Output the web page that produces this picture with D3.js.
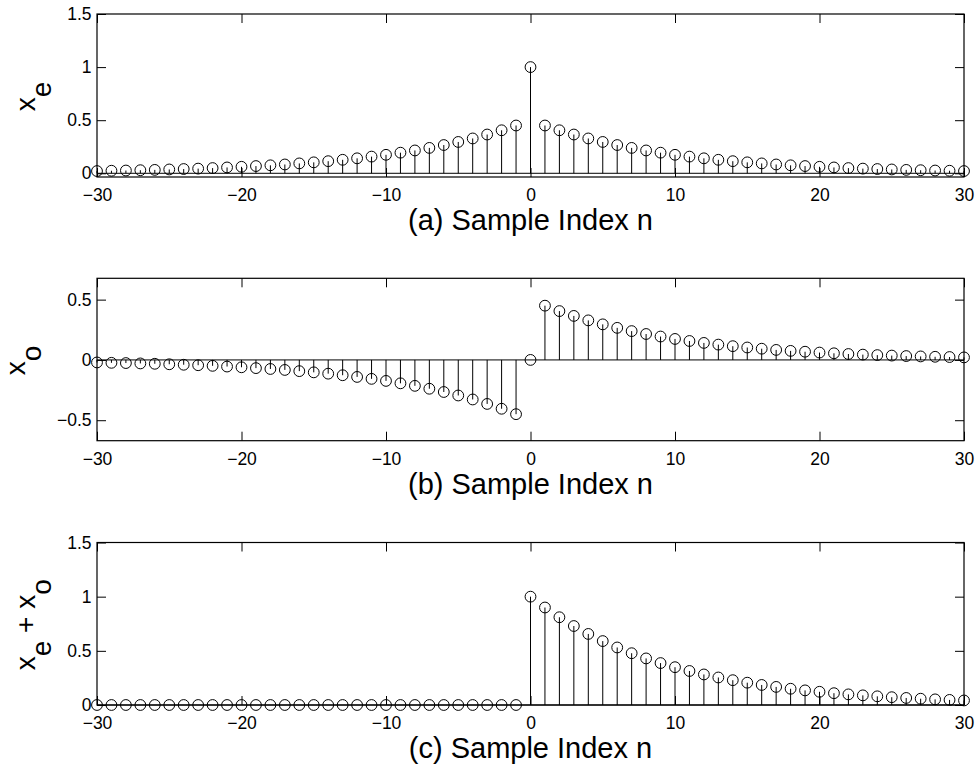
<!DOCTYPE html>
<html>
<head>
<meta charset="utf-8">
<script src="https://cdn.jsdelivr.net/npm/d3@7/dist/d3.min.js"></script>
<style>
  html, body { margin: 0; padding: 0; background: #fff; }
  svg { display: block; }
  text { font-family: "Liberation Sans", Arial, Helvetica, sans-serif; fill: #000; }
</style>
</head>
<body>
<svg id="chart" width="977" height="767"></svg>
<script>
// ---------------- DATA ----------------
const sampleIndex = d3.range(-30, 31); // n = -30 ... 30

const evenPart = [
  0.021,0.024,0.026,0.029,0.032,0.036,0.040,0.044,0.049,0.055,
  0.061,0.068,0.075,0.083,0.093,0.103,0.114,0.127,0.141,0.157,
  0.174,0.194,0.215,0.239,0.266,0.295,0.328,0.365,0.405,0.450,
  1.000,
  0.450,0.405,0.365,0.328,0.295,0.266,0.239,0.215,0.194,0.174,
  0.157,0.141,0.127,0.114,0.103,0.093,0.083,0.075,0.068,0.061,
  0.055,0.049,0.044,0.040,0.036,0.032,0.029,0.026,0.024,0.021
];

const oddPart = [
  -0.021,-0.024,-0.026,-0.029,-0.032,-0.036,-0.040,-0.044,-0.049,-0.055,
  -0.061,-0.068,-0.075,-0.083,-0.093,-0.103,-0.114,-0.127,-0.141,-0.157,
  -0.174,-0.194,-0.215,-0.239,-0.266,-0.295,-0.328,-0.365,-0.405,-0.450,
  0.000,
  0.450,0.405,0.365,0.328,0.295,0.266,0.239,0.215,0.194,0.174,
  0.157,0.141,0.127,0.114,0.103,0.093,0.083,0.075,0.068,0.061,
  0.055,0.049,0.044,0.040,0.036,0.032,0.029,0.026,0.024,0.021
];

const sumSignal = [
  0,0,0,0,0,0,0,0,0,0,
  0,0,0,0,0,0,0,0,0,0,
  0,0,0,0,0,0,0,0,0,0,
  1.000,
  0.900,0.810,0.729,0.656,0.590,0.531,0.478,0.430,0.387,0.349,
  0.314,0.282,0.254,0.229,0.206,0.185,0.167,0.150,0.135,0.122,
  0.109,0.098,0.089,0.080,0.072,0.065,0.058,0.052,0.047,0.042
];

const xTickValues = [-30, -20, -10, 0, 10, 20, 30];
const yTicksA = [0, 0.5, 1, 1.5];
const yTicksB = [-0.5, 0, 0.5];
const yTicksC = [0, 0.5, 1, 1.5];

const titles = ["(a) Sample Index n", "(b) Sample Index n", "(c) Sample Index n"];
// y labels as [text, isSubscript] parts
const yLabelA = [["x", false], ["e", true]];
const yLabelB = [["x", false], ["o", true]];
const yLabelC = [["x", false], ["e", true], [" + ", false], ["x", false], ["o", true]];

// ---------------- LAYOUT ----------------
const svg = d3.select("#chart");
const left = 97, right = 964;
const x = d3.scaleLinear().domain([-30, 30]).range([left, right]);

const panels = [
  { values: evenPart,  domain: [-0.035, 1.5], top: 14,    bottom: 177,   yTicks: yTicksA, label: yLabelA, labelX: 35, title: titles[0] },
  { values: oddPart,   domain: [-0.67, 0.677], top: 278.3, bottom: 440.7, yTicks: yTicksB, label: yLabelB, labelX: 25, title: titles[1] },
  { values: sumSignal, domain: [0, 1.5],      top: 542.5, bottom: 705,   yTicks: yTicksC, label: yLabelC, labelX: 35, title: titles[2] }
];

const fmt = v => {
  const s = d3.format("~g")(Math.abs(v));
  return (v < 0 ? "\u2212" : "") + s;
};

panels.forEach(p => {
  const y = d3.scaleLinear().domain(p.domain).range([p.bottom, p.top]);
  const g = svg.append("g");

  // axes (inner ticks)
  const tickLen = 9;
  const xb = g.append("g").attr("transform", `translate(0,${p.bottom})`)
    .call(d3.axisBottom(x).tickValues(xTickValues).tickFormat(fmt)
      .tickSizeInner(-tickLen).tickSizeOuter(0).tickPadding(12));
  const xt = g.append("g").attr("transform", `translate(0,${p.top})`)
    .call(d3.axisTop(x).tickValues(xTickValues).tickFormat("")
      .tickSizeInner(-tickLen).tickSizeOuter(0));
  const yl = g.append("g").attr("transform", `translate(${left},0)`)
    .call(d3.axisLeft(y).tickValues(p.yTicks).tickFormat(fmt)
      .tickSizeInner(-tickLen).tickSizeOuter(0).tickPadding(5.5));
  const yr = g.append("g").attr("transform", `translate(${right},0)`)
    .call(d3.axisRight(y).tickValues(p.yTicks).tickFormat("")
      .tickSizeInner(-tickLen).tickSizeOuter(0));
  [xb, xt, yl, yr].forEach(a => {
    a.select(".domain").remove();
    a.selectAll(".tick line").attr("stroke", "#000").attr("stroke-width", 1);
    a.selectAll("text").attr("font-size", 17.5)
      .attr("font-family", '"Liberation Sans", Arial, sans-serif').attr("fill", "#000");
  });

  // box
  g.append("rect")
    .attr("x", left).attr("y", p.top)
    .attr("width", right - left).attr("height", p.bottom - p.top)
    .attr("fill", "none").attr("stroke", "#000").attr("stroke-width", 1.2);

  // baseline
  g.append("line")
    .attr("x1", x(-30)).attr("x2", x(30))
    .attr("y1", y(0)).attr("y2", y(0))
    .attr("stroke", "#000").attr("stroke-width", 1);

  const data = sampleIndex.map((n, i) => ({ n, v: p.values[i] }));

  // stems
  g.append("g").selectAll("line").data(data).join("line")
    .attr("x1", d => x(d.n)).attr("x2", d => x(d.n))
    .attr("y1", y(0)).attr("y2", d => y(d.v))
    .attr("stroke", "#000").attr("stroke-width", 1);

  // markers
  g.append("g").selectAll("circle").data(data).join("circle")
    .attr("cx", d => x(d.n)).attr("cy", d => y(d.v))
    .attr("r", 5.4)
    .attr("fill", "none").attr("stroke", "#000").attr("stroke-width", 1);

  // title under x axis
  g.append("text")
    .attr("x", (left + right) / 2).attr("y", p.bottom + 53)
    .attr("text-anchor", "middle").attr("font-size", 29)
    .text(p.title);

  // y label (rotated, with subscripts)
  const cy = (p.top + p.bottom) / 2 + 1;
  const t = g.append("text")
    .attr("transform", `translate(${p.labelX},${cy}) rotate(-90)`)
    .attr("text-anchor", "middle").attr("font-size", 28);
  let shifted = false;
  p.label.forEach(([s, sub]) => {
    const ts = t.append("tspan").text(s);
    if (sub && !shifted) { ts.attr("dy", 16); shifted = true; }
    else if (!sub && shifted) { ts.attr("dy", -16); shifted = false; }
  });
});
</script>
</body>
</html>
